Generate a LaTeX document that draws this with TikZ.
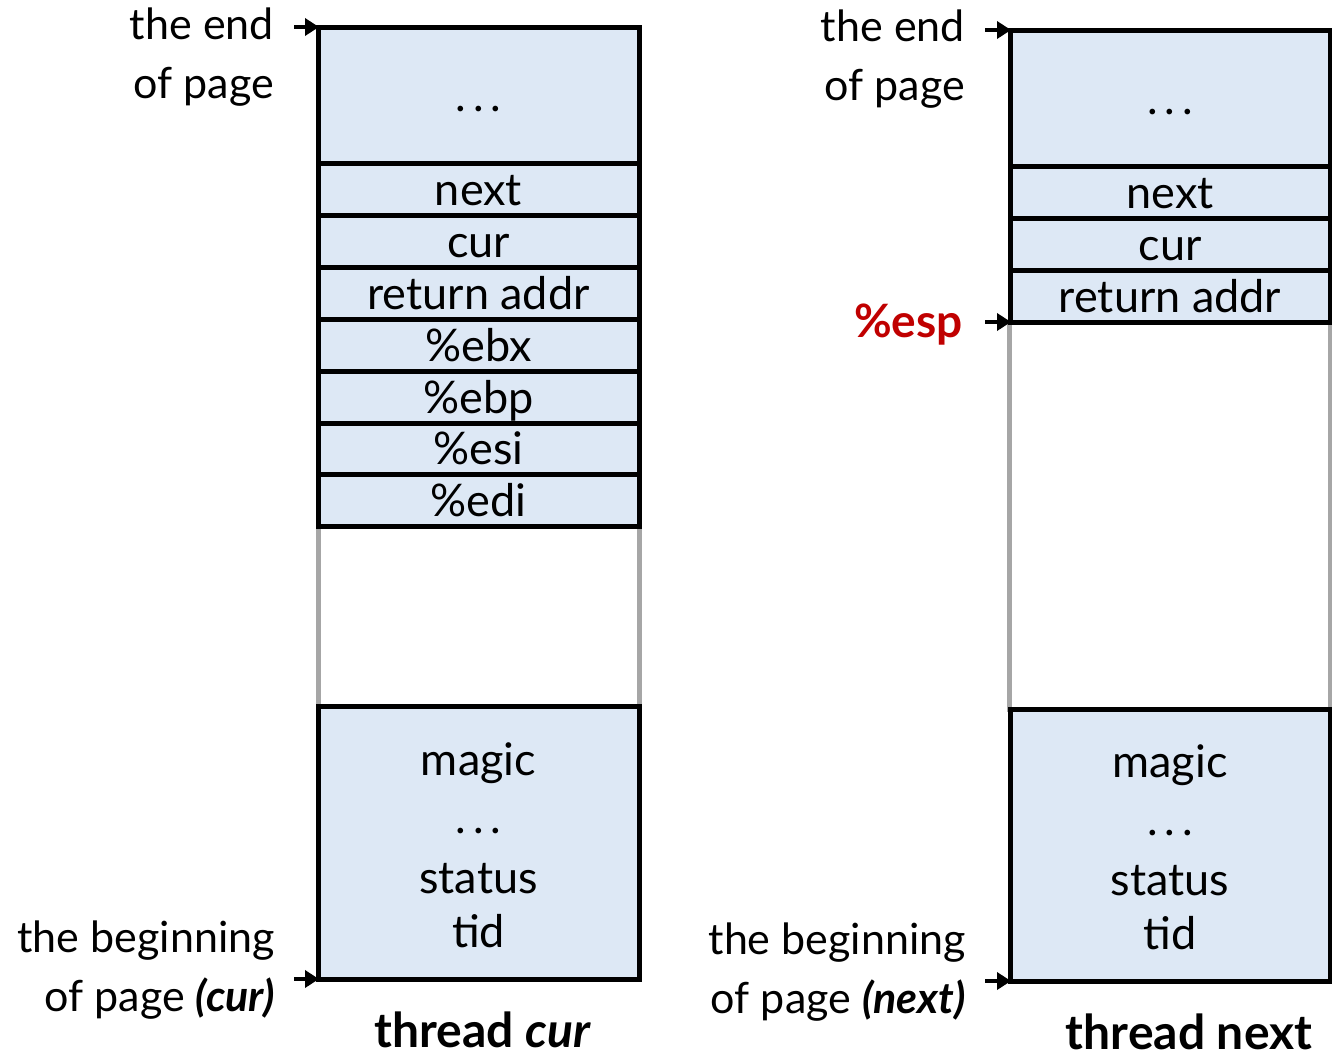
\documentclass[tikz,border=0pt]{standalone}
\usepackage{fontspec}
\setmainfont{Lato}
\usetikzlibrary{arrows.meta}
\definecolor{cellblue}{RGB}{221,232,245}
\definecolor{gapgray}{RGB}{166,166,166}
\definecolor{espred}{RGB}{192,0,0}
\newcommand{\spaceddots}{.\kern7pt.\kern7pt.}
\tikzset{
  cell/.style={draw=black, line width=5pt, fill=cellblue, inner sep=0pt, outer sep=0pt,
               minimum width=321pt, text height=32pt, text depth=0pt,
               font=\fontsize{45}{54}\selectfont},
  celltext/.style={inner sep=0pt, anchor=base, font=\fontsize{45}{54}\selectfont},
  gap/.style={draw=gapgray, line width=5pt, fill=white, inner sep=0pt, outer sep=0pt,
              minimum width=321pt},
  ptr/.style={line width=4.5pt, -{Triangle[length=14pt,width=17pt]}, shorten >=-1pt},
  lbl/.style={align=right, anchor=east, inner sep=0pt, font=\fontsize{43}{59}\selectfont},
  caption/.style={inner sep=0pt, font=\fontsize{48}{56}\selectfont\bfseries}
}
\begin{document}
\begin{tikzpicture}[x=1pt, y=-1pt]
\useasboundingbox (0,0) rectangle (1332,1058);

% ---- thread cur stack page ----
\node[gap, minimum height=180pt] (gapL) at (478.5,616) {};
\node[cell, minimum height=136pt] (topL) at (478.5,95) {\spaceddots};
\node[cell, minimum height=52pt] (nextL) at (478.5,189) {next};
\node[cell, minimum height=52pt] (curL) at (478.5,241) {cur};
\node[cell, minimum height=52pt] (retL) at (478.5,293) {return addr};
\node[cell, minimum height=52pt] (ebxL) at (478.5,345) {\%ebx};
\node[cell, minimum height=52pt] (ebpL) at (478.5,397) {\%ebp};
\node[cell, minimum height=51pt] (esiL) at (478.5,448.5) {\%esi};
\node[cell, minimum height=52pt] (ediL) at (478.5,500) {\%edi};
\node[cell, minimum height=273pt] (baseL) at (478.5,842.5) {};
\node[celltext] (magicL) at (478.5,775) {magic};
\node[celltext] (dotsL) at (478.5,833) {\spaceddots};
\node[celltext] (statusL) at (478.5,893) {status};
\node[celltext] (tidL) at (478.5,947) {tid};

\coordinate (endLsrc) at (294,27);
\coordinate (begLsrc) at (294,979);
\draw[ptr] (endLsrc) -- (topL.north west);
\draw[ptr] (begLsrc) -- (baseL.south west);

\node[lbl] (endLtxt) at (274,57) {the end\\of page};
\node[lbl] (begLtxt) at (275,970) {the beginning\\of page \textbf{\textit{(cur)}}};
\node[caption] (capL) at (483,1030) {thread \textit{cur}};

% ---- thread next stack page ----
\node[gap, minimum height=387pt] (gapR) at (1170,515.5) {};
\node[cell, minimum height=136pt, minimum width=320pt] (topR) at (1170,98) {\spaceddots};
\node[cell, minimum height=52pt, minimum width=320pt] (nextR) at (1170,192) {next};
\node[cell, minimum height=52pt, minimum width=320pt] (curR) at (1170,244) {cur};
\node[cell, minimum height=52pt, minimum width=320pt] (retR) at (1170,296) {return addr};
\node[cell, minimum height=272pt, minimum width=320pt] (baseR) at (1170,845) {};
\node[celltext] (magicR) at (1170,777) {magic};
\node[celltext] (dotsR) at (1170,835) {\spaceddots};
\node[celltext] (statusR) at (1170,895) {status};
\node[celltext] (tidR) at (1170,949) {tid};

\coordinate (endRsrc) at (985,30);
\coordinate (espRsrc) at (985,322);
\coordinate (begRsrc) at (985,981);
\draw[ptr] (endRsrc) -- (topR.north west);
\draw[ptr] (espRsrc) -- (retR.south west);
\draw[ptr] (begRsrc) -- (baseR.south west);

\node[lbl] (endRtxt) at (965,59) {the end\\of page};
\node[lbl, font=\fontsize{46}{54}\selectfont\bfseries, text=espred] (espRtxt) at (963,325) {\%esp};
\node[lbl] (begRtxt) at (966,972) {the beginning\\of page \textbf{\textit{(next)}}};
\node[caption] (capR) at (1189,1032) {thread next};
\end{tikzpicture}
\end{document}
